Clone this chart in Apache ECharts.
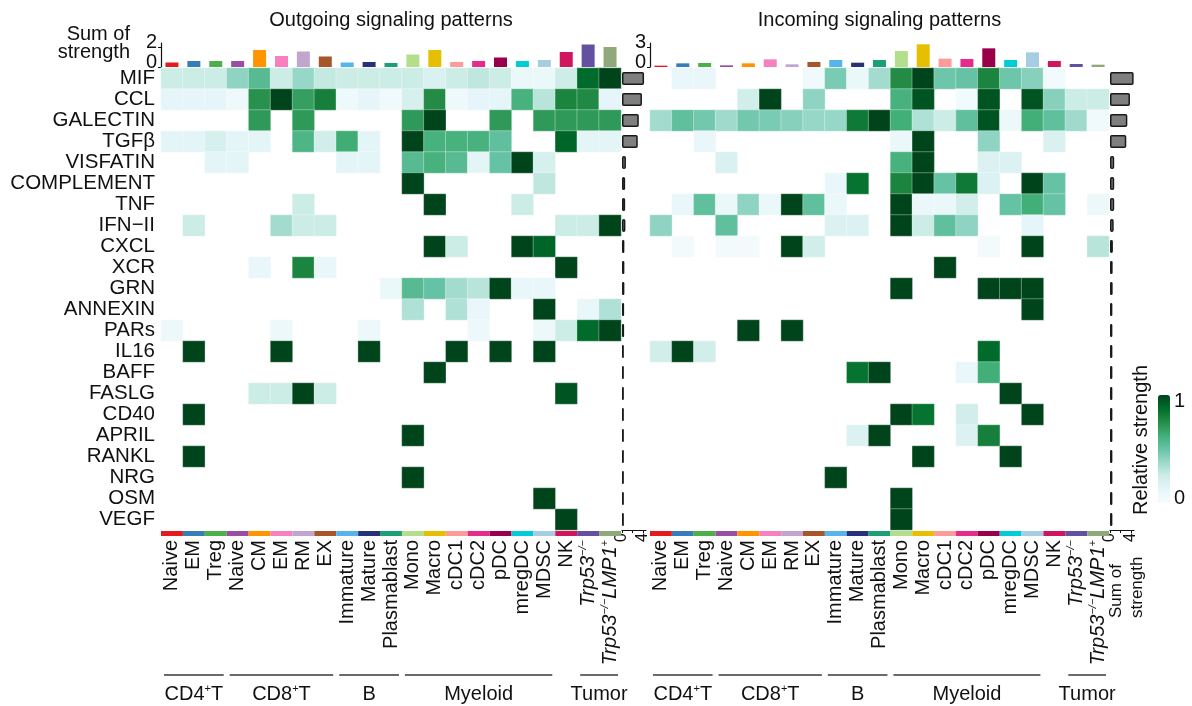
<!DOCTYPE html>
<html><head><meta charset="utf-8">
<script src="https://cdn.jsdelivr.net/npm/echarts@6/dist/echarts.min.js"></script>
<style>html,body{margin:0;padding:0;background:#fff}#c{width:1192px;height:706px}</style>
</head><body><div id="c"></div>
<script>
// ---------------- DATA ----------------
const cellTypes = ['Naive','EM','Treg','Naive','CM','EM','RM','EX','Immature','Mature','Plasmablast',
  'Mono','Macro','cDC1','cDC2','pDC','mregDC','MDSC','NK','Trp53-/-','Trp53-/-LMP1+'];
const cellColors = ['#e41a1c','#377eb8','#4daf4a','#984ea3','#ff9400','#f781bf','#c2a5cf','#a65628',
  '#56b4e9','#27317a','#1c9e77','#b3de8b','#e5bf00','#fc9b98','#e62b8a','#98004b','#00ccd6','#a6cde2',
  '#d0145e','#6450a0','#8fa97b'];
const pathways = ['MIF','CCL','GALECTIN','TGFβ','VISFATIN','COMPLEMENT','TNF','IFN−II','CXCL','XCR','GRN',
  'ANNEXIN','PARs','IL16','BAFF','FASLG','CD40','APRIL','RANKL','NRG','OSM','VEGF'];
const groupNames = ['CD4|+|T','CD8|+|T','B','Myeloid','Tumor'];
const groupFirst = [0,3,8,11,19];
const groupLast = [2,7,10,17,20];

// relative strength, rows = pathways, cols = cell types
const outgoingStrength = [
  [0.25,0.25,0.25,0.4,0.55,0.25,0.38,0.27,0.25,0.25,0.25,0.25,0.18,0.25,0.28,0.25,0.08,0.08,0.24,0.88,1.0],
  [0.12,0.12,0.12,0.06,0.73,1.0,0.68,0.8,0.06,0.12,0.05,0.2,0.75,0.06,0.12,0.12,0.6,0.3,0.78,0.76,0.12],
  [0,0,0,0,0.7,0,0.7,0,0,0,0,0.7,1.0,0,0,0.7,0,0.7,0.7,0.7,0.7],
  [0.13,0.13,0.2,0.13,0.13,0,0.58,0.22,0.63,0.13,0,1.0,0.6,0.6,0.6,0.52,0,0,0.9,0.13,0.13],
  [0,0,0.13,0.13,0,0,0,0,0.13,0.13,0,0.55,0.6,0.55,0.13,0.5,1.0,0.2,0,0,0],
  [0,0,0,0,0,0,0,0,0,0,0,1.0,0,0,0,0,0,0.28,0,0,0],
  [0,0,0,0,0,0,0.25,0,0,0,0,0,1.0,0,0,0,0.25,0,0,0,0],
  [0,0.25,0,0,0,0.35,0.25,0.25,0,0,0,0,0,0,0,0,0,0,0.25,0.25,1.0],
  [0,0,0,0,0,0,0,0,0,0,0,0,1.0,0.25,0,0,1.0,0.9,0,0,0],
  [0,0,0,0,0.1,0,0.78,0.1,0,0,0,0,0,0,0,0,0,0,1.0,0,0],
  [0,0,0,0,0,0,0,0,0,0,0.08,0.55,0.5,0.35,0.3,1.0,0.1,0.1,0,0,0],
  [0,0,0,0,0,0,0,0,0,0,0,0.32,0,0.32,0.1,0,0,1.0,0,0.1,0.32],
  [0.07,0,0,0,0,0.07,0,0,0,0.07,0,0,0,0,0.07,0,0,0.07,0.25,0.88,1.0],
  [0,1,0,0,0,1,0,0,0,1,0,0,0,1,0,1,0,1,0,0,0],
  [0,0,0,0,0,0,0,0,0,0,0,0,1,0,0,0,0,0,0,0,0],
  [0,0,0,0,0.25,0.25,1.0,0.25,0,0,0,0,0,0,0,0,0,0,0.95,0,0],
  [0,1,0,0,0,0,0,0,0,0,0,0,0,0,0,0,0,0,0,0,0],
  [0,0,0,0,0,0,0,0,0,0,0,1,0,0,0,0,0,0,0,0,0],
  [0,1,0,0,0,0,0,0,0,0,0,0,0,0,0,0,0,0,0,0,0],
  [0,0,0,0,0,0,0,0,0,0,0,1,0,0,0,0,0,0,0,0,0],
  [0,0,0,0,0,0,0,0,0,0,0,0,0,0,0,0,0,1,0,0,0],
  [0,0,0,0,0,0,0,0,0,0,0,0,0,0,0,0,0,0,1,0,0]
];
const incomingStrength = [
  [0,0.1,0.1,0,0,0,0,0.05,0.45,0.08,0.35,0.75,1.0,0.48,0.5,0.78,0.48,0.42,0.04,0,0],
  [0,0,0,0,0.22,1.0,0,0.4,0,0,0,0.6,0.95,0,0.04,0.95,0,0.95,0.42,0.25,0.25],
  [0.35,0.52,0.47,0.36,0.47,0.45,0.42,0.38,0.38,0.82,1.0,0.62,0.32,0.25,0.52,0.95,0.07,0.62,0.52,0.36,0.05],
  [0,0,0.1,0,0,0,0,0,0,0,0,0.08,1.0,0,0,0.4,0,0,0.18,0,0],
  [0,0,0,0.18,0,0,0,0,0,0,0,0.6,1.0,0,0,0.17,0.17,0,0,0,0],
  [0,0,0,0,0,0,0,0,0.1,0.85,0,0.78,1.0,0.5,0.82,0.17,0,1.0,0.5,0,0],
  [0,0.1,0.52,0.08,0.4,0.08,1.0,0.52,0.08,0,0,1.0,0.08,0.08,0.22,0,0.5,0.62,0.5,0,0.07],
  [0.4,0,0,0.52,0,0,0,0,0.17,0.17,0,1.0,0.25,0.52,0.4,0,0,0.12,0,0,0],
  [0,0.03,0,0.03,0.03,0,1.0,0.22,0,0,0,0,0,0,0,0.03,0,1.0,0,0,0.3],
  [0,0,0,0,0,0,0,0,0,0,0,0,0,1,0,0,0,0,0,0,0],
  [0,0,0,0,0,0,0,0,0,0,0,1,0,0,0,1,1,1,0,0,0],
  [0,0,0,0,0,0,0,0,0,0,0,0,0,0,0,0,0,1,0,0,0],
  [0,0,0,0,1,0,1,0,0,0,0,0,0,0,0,0,0,0,0,0,0],
  [0.22,1.0,0.22,0,0,0,0,0,0,0,0,0,0,0,0,0.88,0,0,0,0,0],
  [0,0,0,0,0,0,0,0,0,0.85,1.0,0,0,0,0.1,0.62,0,0,0,0,0],
  [0,0,0,0,0,0,0,0,0,0,0,0,0,0,0,0,1,0,0,0,0],
  [0,0,0,0,0,0,0,0,0,0,0,1.0,0.85,0,0.22,0,0,1.0,0,0,0],
  [0,0,0,0,0,0,0,0,0,0.17,1.0,0,0,0,0.17,0.8,0,0,0,0,0],
  [0,0,0,0,0,0,0,0,0,0,0,0,1,0,0,0,1,0,0,0,0],
  [0,0,0,0,0,0,0,0,1,0,0,0,0,0,0,0,0,0,0,0,0],
  [0,0,0,0,0,0,0,0,0,0,0,1,0,0,0,0,0,0,0,0,0],
  [0,0,0,0,0,0,0,0,0,0,0,1,0,0,0,0,0,0,0,0,0]
];
// sum of strength per cell type (top bars)
const outgoingColSums = [0.45,0.6,0.6,0.6,1.7,1.1,1.55,1.05,0.45,0.5,0.4,1.25,1.7,0.5,0.6,0.95,0.6,0.7,1.5,2.25,2.0];
const incomingColSums = [0.2,0.55,0.6,0.25,0.55,1.15,0.4,0.75,1.05,0.65,1.05,2.4,3.4,1.25,1.2,2.8,1.05,2.2,0.9,0.45,0.35];
// sum of strength per pathway (side bars)
const outgoingRowSums = [4.2,3.8,3.2,3.0,0.75,0.6,0.6,0.65,0.45,0.45,0.45,0.4,0.4,0.35,0.35,0.35,0.35,0.35,0.35,0.35,0.35,0.35];
const incomingRowSums = [4.5,3.8,3.3,3.1,0.8,0.8,0.8,0.7,0.55,0.5,0.5,0.45,0.45,0.45,0.45,0.45,0.45,0.45,0.45,0.45,0.45,0.45];

// ---------------- LAYOUT ----------------
const FONT = '"Liberation Sans", Arial, Helvetica, sans-serif';
const HM_TOP = 68, HM_H = 462;
const PANELS = [{x:161, w:460}, {x:650, w:459}];
const BAR_TOP = 43, BAR_H = 24;
const RB_X = [622, 1110], RB_W = 24;
const STRIP_TOP = 531, STRIP_H = 5;
const TXT = '#111';

const grids = [
  {left:PANELS[0].x, top:HM_TOP, width:PANELS[0].w, height:HM_H},
  {left:PANELS[1].x, top:HM_TOP, width:PANELS[1].w, height:HM_H},
  {left:PANELS[0].x, top:BAR_TOP, width:PANELS[0].w, height:BAR_H},
  {left:PANELS[1].x, top:BAR_TOP, width:PANELS[1].w, height:BAR_H},
  {left:RB_X[0], top:HM_TOP, width:RB_W, height:HM_H},
  {left:RB_X[1], top:HM_TOP, width:RB_W, height:HM_H},
  {left:PANELS[0].x, top:STRIP_TOP, width:PANELS[0].w, height:STRIP_H},
  {left:PANELS[1].x, top:STRIP_TOP, width:PANELS[1].w, height:STRIP_H}
];

function cellLabel(v, i) {
  if (i === 19) return '{it|Trp53}{sup|−/−}';
  if (i === 20) return '{it|Trp53}{sup|−/−}{it|LMP1}{sup|+}';
  return '{n|' + cellTypes[i] + '}';
}
const labelRich = {
  n: {fontSize:20, fontFamily:FONT, color:TXT, lineHeight:22},
  it: {fontSize:20, fontFamily:FONT, color:TXT, fontStyle:'italic', lineHeight:22},
  sup: {fontSize:11, fontFamily:FONT, color:TXT, fontStyle:'italic', lineHeight:11, verticalAlign:'top'}
};
const hidden = {show:false};

const xAxes = [
  {type:'category', gridIndex:0, data:cellTypes, show:false},
  {type:'category', gridIndex:1, data:cellTypes, show:false},
  {type:'category', gridIndex:2, data:cellTypes, show:false},
  {type:'category', gridIndex:3, data:cellTypes, show:false},
  {type:'value', gridIndex:4, min:0, max:4.57, position:'bottom',
    axisLine:{show:true, lineStyle:{color:TXT, width:1}},
    axisTick:{show:true, length:3, customValues:[0,2,4], lineStyle:{color:TXT}},
    axisLabel:{show:true, customValues:[0,4], rotate:90, fontSize:16, fontFamily:FONT, color:TXT, margin:3},
    splitLine:hidden},
  {type:'value', gridIndex:5, min:0, max:4.57, position:'bottom',
    axisLine:{show:true, lineStyle:{color:TXT, width:1}},
    axisTick:{show:true, length:3, customValues:[0,2,4], lineStyle:{color:TXT}},
    axisLabel:{show:true, customValues:[0,4], rotate:90, fontSize:16, fontFamily:FONT, color:TXT, margin:3},
    splitLine:hidden},
  {type:'category', gridIndex:6, data:cellTypes, position:'bottom', axisLine:hidden, axisTick:hidden,
    axisLabel:{interval:0, rotate:90, margin:4, formatter:cellLabel, rich:labelRich}},
  {type:'category', gridIndex:7, data:cellTypes, position:'bottom', axisLine:hidden, axisTick:hidden,
    axisLabel:{interval:0, rotate:90, margin:4, formatter:cellLabel, rich:labelRich}}
];
function topAxis(gi, max, top) {
  return {type:'value', gridIndex:gi, min:0, max:max,
    axisLine:{show:true, lineStyle:{color:TXT, width:1.2}},
    axisTick:{show:true, length:3, customValues:[0,top], lineStyle:{color:TXT}},
    axisLabel:{show:true, customValues:[0,top], fontSize:20, fontFamily:FONT, color:TXT, margin:4, verticalAlign:'bottom', lineHeight:9},
    splitLine:hidden};
}
const yAxes = [
  {type:'category', gridIndex:0, data:pathways, inverse:true, axisLine:hidden, axisTick:hidden,
    axisLabel:{interval:0, fontSize:20.5, fontFamily:FONT, color:TXT, margin:6}},
  {type:'category', gridIndex:1, data:pathways, inverse:true, show:false},
  topAxis(2, 2.4, 2),
  topAxis(3, 3.6, 3),
  {type:'category', gridIndex:4, data:pathways, inverse:true, show:false},
  {type:'category', gridIndex:5, data:pathways, inverse:true, show:false},
  {type:'value', gridIndex:6, min:0, max:1, show:false},
  {type:'value', gridIndex:7, min:0, max:1, show:false}
];

function cells(mat) {
  const out = [];
  mat.forEach((row, r) => row.forEach((v, c) => { if (v > 0) out.push([c, r, v]); }));
  return out;
}
const hmStyle = {borderColor:'rgba(255,255,255,0.55)', borderWidth:0.6};
const series = [
  {type:'heatmap', xAxisIndex:0, yAxisIndex:0, data:cells(outgoingStrength), itemStyle:hmStyle, silent:true, emphasis:{disabled:true}},
  {type:'heatmap', xAxisIndex:1, yAxisIndex:1, data:cells(incomingStrength), itemStyle:hmStyle, silent:true, emphasis:{disabled:true}},
  {type:'bar', xAxisIndex:2, yAxisIndex:2, barWidth:13, silent:true,
    data:outgoingColSums.map((v,i)=>({value:v, itemStyle:{color:cellColors[i]}}))},
  {type:'bar', xAxisIndex:3, yAxisIndex:3, barWidth:13, silent:true,
    data:incomingColSums.map((v,i)=>({value:v, itemStyle:{color:cellColors[i]}}))},
  {type:'bar', xAxisIndex:4, yAxisIndex:4, barWidth:13, silent:true, data:outgoingRowSums,
    itemStyle:{color:'#7f7f7f', borderColor:'#1a1a1a', borderWidth:1.5, borderRadius:1}},
  {type:'bar', xAxisIndex:5, yAxisIndex:5, barWidth:13, silent:true, data:incomingRowSums,
    itemStyle:{color:'#7f7f7f', borderColor:'#1a1a1a', borderWidth:1.5, borderRadius:1}},
  {type:'bar', xAxisIndex:6, yAxisIndex:6, barCategoryGap:'0%', silent:true,
    data:cellColors.map(c=>({value:1, itemStyle:{color:c}}))},
  {type:'bar', xAxisIndex:7, yAxisIndex:7, barCategoryGap:'0%', silent:true,
    data:cellColors.map(c=>({value:1, itemStyle:{color:c}}))}
];

// ---------------- ANNOTATIONS ----------------
function txt(x, y, text, opt) {
  opt = opt || {};
  const st = Object.assign({text:text, fontSize:20, fontFamily:FONT, fill:TXT,
    align:'center', textAlign:'center', verticalAlign:'middle', textVerticalAlign:'middle'}, opt.style || {});
  return Object.assign({type:'text', x:x, y:y, silent:true, style:st}, opt.el || {});
}
const graphics = [];
graphics.push(txt(PANELS[0].x + PANELS[0].w/2, 20, 'Outgoing signaling patterns'));
graphics.push(txt(PANELS[1].x + PANELS[1].w/2, 20, 'Incoming signaling patterns'));
graphics.push(txt(130, 43, 'Sum of\nstrength', {style:{align:'right', textAlign:'right', lineHeight:18}}));
// group lines + labels
PANELS.forEach(p => {
  const cw = p.w / cellTypes.length;
  groupNames.forEach((g, k) => {
    const x0 = p.x + groupFirst[k]*cw + 3, x1 = p.x + (groupLast[k]+1)*cw - 3;
    graphics.push({type:'line', silent:true, shape:{x1:x0, y1:675, x2:x1, y2:675},
      style:{stroke:'#6a6a6a', lineWidth:2}});
    const parts = g.split('|');
    const rt = parts.length === 3 ? '{a|' + parts[0] + '}{s|' + parts[1] + '}{a|' + parts[2] + '}' : '{a|' + g + '}';
    graphics.push(txt((x0 + x1)/2, 694, rt, {style:{rich:{
      a:{fontSize:20, fontFamily:FONT, fill:TXT, lineHeight:22},
      s:{fontSize:11, fontFamily:FONT, fill:TXT, lineHeight:11, verticalAlign:'top'}}}}));
  });
});
// sum-of-strength axis name under right side bars
graphics.push(txt(1127, 618, 'Sum of\nstrength', {style:{fontSize:17, align:'left', textAlign:'left', lineHeight:21}, el:{rotation:Math.PI/2}}));
// legend texts
graphics.push(txt(1141, 440, 'Relative strength', {el:{rotation:Math.PI/2}}));
graphics.push(txt(1174, 401, '1', {style:{align:'left', textAlign:'left'}}));
graphics.push(txt(1174, 498, '0', {style:{align:'left', textAlign:'left'}}));

const option = {
  animation:false,
  backgroundColor:'#fff',
  textStyle:{fontFamily:FONT},
  grid:grids,
  xAxis:xAxes,
  yAxis:yAxes,
  visualMap:{type:'continuous', seriesIndex:[0,1], dimension:2, min:0, max:1, calculable:false,
    orient:'vertical', left:1158, top:395, itemWidth:12, itemHeight:107, padding:0,
    text:null, showLabel:false,
    inRange:{color:['#f7fcfd','#e5f5f9','#ccece6','#99d8c9','#66c2a4','#41ae76','#238b45','#006d2c','#00441b']}},
  series:series,
  graphic:graphics
};
const chart = echarts.init(document.getElementById('c'));
chart.setOption(option);
</script>
</body></html>
